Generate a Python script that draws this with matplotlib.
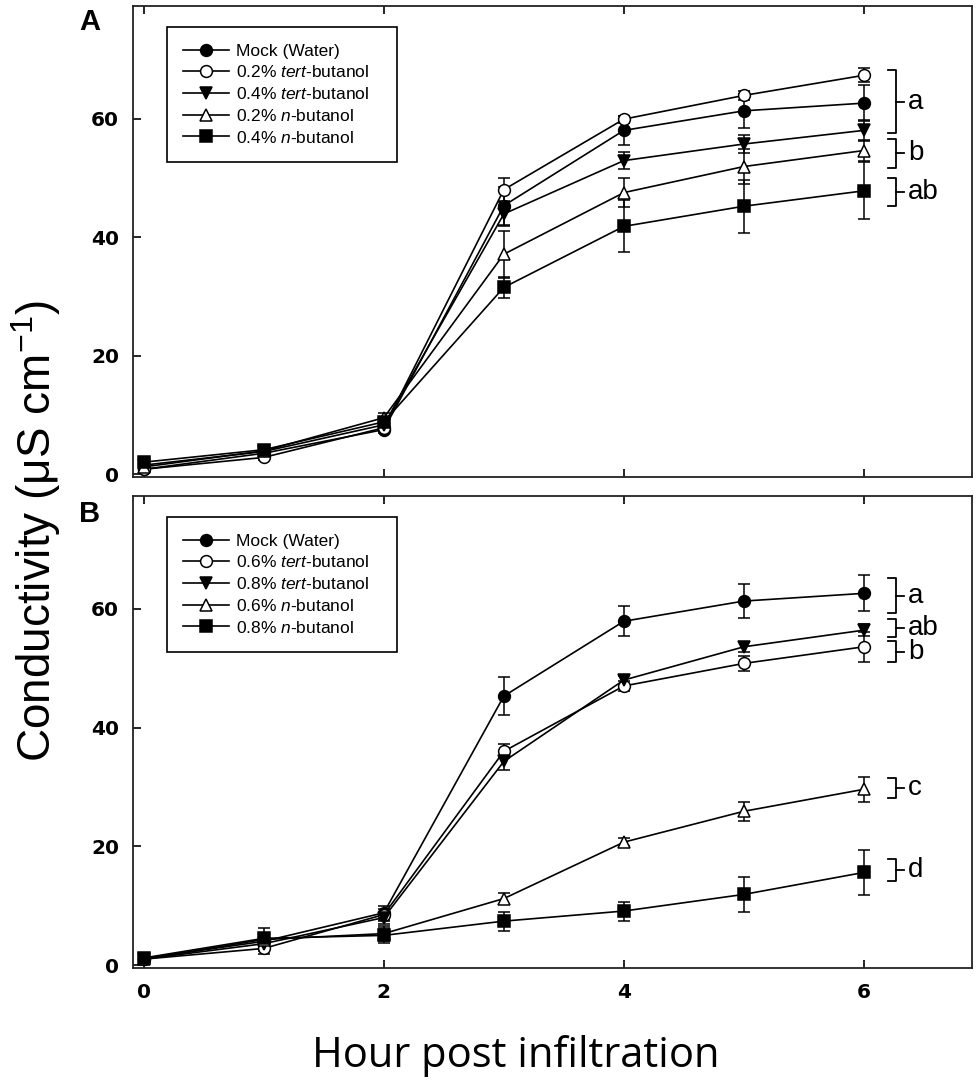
import numpy as np
import matplotlib
matplotlib.use("Agg")
import matplotlib.pyplot as plt
from matplotlib.lines import Line2D

plt.rcParams['font.family'] = ['Liberation Sans', 'DejaVu Sans']
plt.rcParams['mathtext.fontset'] = 'custom'
plt.rcParams['mathtext.rm'] = 'Liberation Sans'
plt.rcParams['mathtext.it'] = 'Liberation Sans:italic'
plt.rcParams['mathtext.default'] = 'regular'

hours = [0, 1, 2, 3, 4, 5, 6]

# panel A
a_labels = ["Mock (Water)", r"0.2% $\mathit{tert}$-butanol", r"0.4% $\mathit{tert}$-butanol",
            r"0.2% $\mathit{n}$-butanol", r"0.4% $\mathit{n}$-butanol"]
a_mock = [0.8, 3.5, 7.5, 45.3, 58.0, 61.3, 62.6]
a_mock_err = [0.4, 0.5, 0.6, 3.2, 2.5, 2.9, 3.0]
a_tert02 = [0.8, 2.8, 7.8, 48.0, 59.9, 63.9, 67.3]
a_tert02_err = [0.3, 0.4, 0.6, 2.0, 0.6, 0.8, 1.2]
a_tert04 = [1.5, 3.8, 8.3, 43.9, 52.9, 55.7, 58.0]
a_tert04_err = [0.3, 0.5, 0.7, 2.0, 1.5, 1.6, 1.8]
a_n02 = [1.2, 3.9, 9.5, 37.1, 47.5, 51.9, 54.6]
a_n02_err = [0.3, 0.5, 0.8, 4.0, 2.5, 3.0, 1.7]
a_n04 = [2.0, 4.1, 8.8, 31.5, 41.8, 45.2, 47.8]
a_n04_err = [0.3, 0.5, 0.7, 1.8, 4.4, 4.5, 4.8]
a_groups = [(57.5, 68.2, "a"), (51.7, 56.5, "b"), (45.3, 49.9, "ab")]

# panel B
b_labels = ["Mock (Water)", r"0.6% $\mathit{tert}$-butanol", r"0.8% $\mathit{tert}$-butanol",
            r"0.6% $\mathit{n}$-butanol", r"0.8% $\mathit{n}$-butanol"]
b_mock = [1.1, 4.0, 8.8, 45.3, 57.9, 61.3, 62.6]
b_mock_err = [0.4, 2.2, 1.2, 3.25, 2.5, 2.9, 3.05]
b_tert06 = [1.0, 2.8, 8.5, 36.0, 47.0, 50.8, 53.6]
b_tert06_err = [0.3, 0.5, 1.0, 1.2, 0.8, 1.3, 2.5]
b_tert08 = [1.0, 3.6, 8.0, 34.3, 48.0, 53.6, 56.4]
b_tert08_err = [0.3, 0.5, 1.0, 1.5, 0.6, 0.8, 1.0]
b_n06 = [1.0, 4.3, 5.3, 11.2, 20.7, 25.9, 29.6]
b_n06_err = [0.3, 0.5, 1.2, 1.0, 0.7, 1.6, 2.1]
b_n08 = [1.2, 4.5, 5.0, 7.4, 9.1, 11.9, 15.6]
b_n08_err = [0.3, 0.6, 1.3, 1.6, 1.6, 2.9, 3.8]
b_groups = [(59.3, 65.1, "a"), (55.3, 58.3, "ab"), (51.1, 54.5, "b"),
            (28.1, 31.5, "c"), (14.1, 17.8, "d")]

styles = [('o', 'k'), ('o', 'white'), ('v', 'k'), ('^', 'white'), ('s', 'k')]

fig = plt.figure(figsize=(9.8, 10.85), dpi=100)
axA = fig.add_axes([0.1357, 0.5604, 0.8561, 0.4341])
axB = fig.add_axes([0.1357, 0.1078, 0.8561, 0.4351])


def draw(ax, series, errs, labels, groups, letter, letter_top):
    handles = []
    for y, e, lab, (m, fc) in zip(series, errs, labels, styles):
        ax.errorbar(hours, y, yerr=e, fmt='-', color='k', lw=1.2,
                    marker=m, ms=8.5, mfc=fc, mec='k', mew=1.1,
                    capsize=4.5, capthick=1.1, elinewidth=1.1)
        handles.append(Line2D([], [], color='k', lw=1.2, marker=m, ms=8.5,
                              mfc=fc, mec='k', mew=1.1, label=lab))
    for lo, hi, txt in groups:
        ax.plot([6.2, 6.27, 6.27, 6.2], [hi, hi, lo, lo], color='k', lw=1.3)
        mid = (lo + hi) / 2
        ax.plot([6.27, 6.33], [mid, mid], color='k', lw=1.3)
        ax.text(6.37, mid, txt, fontsize=20, va='center', ha='left')
    ax.set_xlim(-0.09, 6.9)
    ax.set_ylim(-0.5, 79)
    ax.set_xticks([0, 2, 4, 6])
    ax.set_yticks([0, 20, 40, 60])
    ax.tick_params(axis='x', direction='in', top=True, length=6, width=1.2, pad=11)
    ax.tick_params(axis='y', direction='in', length=6, width=1.2, pad=10)
    for lbl in ax.get_xticklabels() + ax.get_yticklabels():
        lbl.set_fontweight('bold')
        lbl.set_fontsize(14.5)
        lbl.set_family(['DejaVu Sans'])
    for s in ax.spines.values():
        s.set_linewidth(1.3)
        s.set_color('#222222')
    leg = ax.legend(handles=handles, loc='upper left',
                    bbox_to_anchor=(0.0405, 0.3, 0.274, 0.6554), mode='expand',
                    borderaxespad=0, fancybox=False, edgecolor='k',
                    fontsize=12.5, handlelength=2.6, labelspacing=0.33,
                    borderpad=0.95, handletextpad=0.45, framealpha=1)
    leg.get_frame().set_linewidth(1.2)
    ax.text(-0.052, letter_top, letter, transform=ax.transAxes, fontsize=21,
            fontweight='bold', ha='center', va='top')


draw(axA, [a_mock, a_tert02, a_tert04, a_n02, a_n04],
     [a_mock_err, a_tert02_err, a_tert04_err, a_n02_err, a_n04_err],
     a_labels, a_groups, "A", 0.996)
draw(axB, [b_mock, b_tert06, b_tert08, b_n06, b_n08],
     [b_mock_err, b_tert06_err, b_tert08_err, b_n06_err, b_n08_err],
     b_labels, b_groups, "B", 0.9915)
axA.tick_params(axis='x', labelbottom=False)

fig.text(0.037, 0.51, "Conductivity (μS cm$^{-1}$)", rotation=90,
         fontsize=33, ha='center', va='center')
fig.text(0.526, 0.027, "Hour post infiltration", fontsize=30,
         ha='center', va='center', family=['Open Sans', 'DejaVu Sans'])

fig.savefig("out.png", dpi=100)
